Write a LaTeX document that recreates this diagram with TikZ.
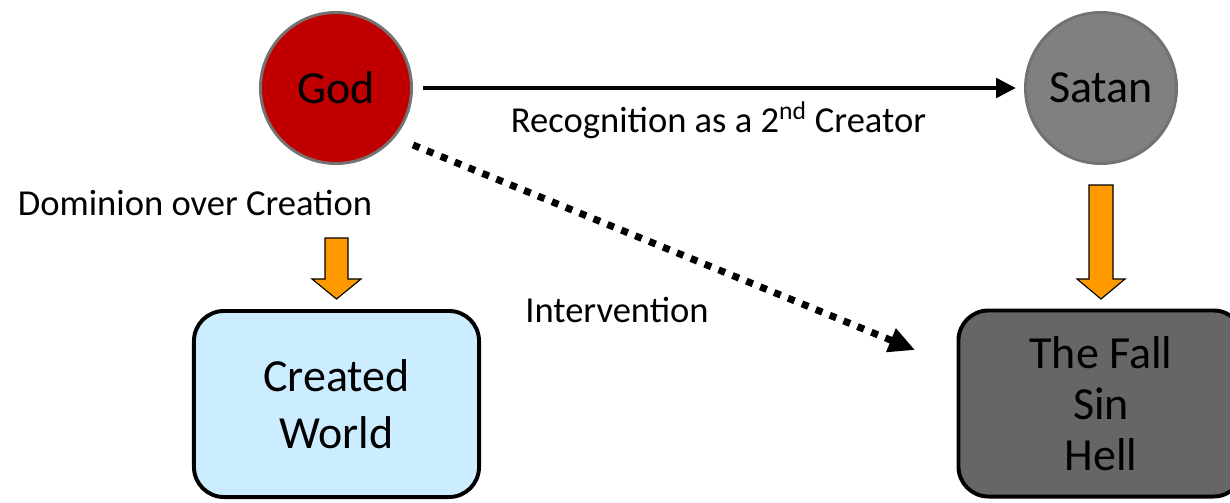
\documentclass[tikz,border=0pt]{standalone}
\usepackage{fontspec}
\setmainfont{Carlito}
\usetikzlibrary{arrows.meta}
\definecolor{godred}{RGB}{192,0,0}
\definecolor{satangray}{RGB}{128,128,128}
\definecolor{ringgray}{RGB}{118,113,113}
\definecolor{worldblue}{RGB}{204,236,255}
\definecolor{fallgray}{RGB}{102,102,102}
\definecolor{arroworange}{RGB}{255,153,0}

\begin{document}
\begin{tikzpicture}[x=0.025cm, y=-0.025cm,
  person/.style={circle, minimum size=3.775cm, inner sep=0pt, line width=2.1pt, draw=ringgray, font=\fontsize{32.7}{40}\selectfont},
  stagebox/.style={rectangle, rounded corners=0.75cm, minimum width=7.125cm, minimum height=4.65cm, line width=2.8pt, draw=black, align=center},
  lbltext/.style={font=\fontsize{26}{31}\selectfont},
  orangearrow/.style={fill=arroworange, draw=black, line width=0.8pt, line join=miter}]
  \useasboundingbox (0,0) rectangle (1230,502);
  \node[person, fill=godred] (god) at (336,88) {God};
  \node[person, fill=satangray] (satan) at (1101,88) {Satan};
  \node[stagebox, fill=worldblue, font=\fontsize{32.7}{40.5}\selectfont] (world) at (336.5,404) {Created\\World};
  \node[stagebox, fill=fallgray, font=\fontsize{32.7}{36.3}\selectfont] (fall) at (1101,403.5) {The Fall\\Sin\\Hell};
  \node[lbltext] (dominion) at (195,203) {Dominion over Creation};
  \node[lbltext] (intervention) at (617,310) {Intervention};
  \coordinate (intvstart) at (413,145);
  \coordinate (intvend) at (915,350);
  \draw [line width=3.5pt, -{Triangle[length=0.5cm,width=0.48cm]}, shorten <=0.25cm, shorten >=0.2cm] (god) -- (satan)
    node[midway, yshift=-0.8cm, lbltext] (recognition) {Recognition as a 2\textsuperscript{nd} Creator};
  \draw [line width=0.175cm, dash pattern=on 0.175cm off 0.2cm, -{Triangle[length=0.65cm,width=0.6cm]}] (intvstart) -- (intvend);
  % block arrows
  \draw [orangearrow] (325,238) -- (348,238) -- (348,279) -- (361,279) -- (336.5,299) -- (312,279) -- (325,279) -- cycle;
  \draw [orangearrow] (1089,185) -- (1113,185) -- (1113,279) -- (1125,279) -- (1101,299) -- (1077,279) -- (1089,279) -- cycle;
\end{tikzpicture}
\end{document}
